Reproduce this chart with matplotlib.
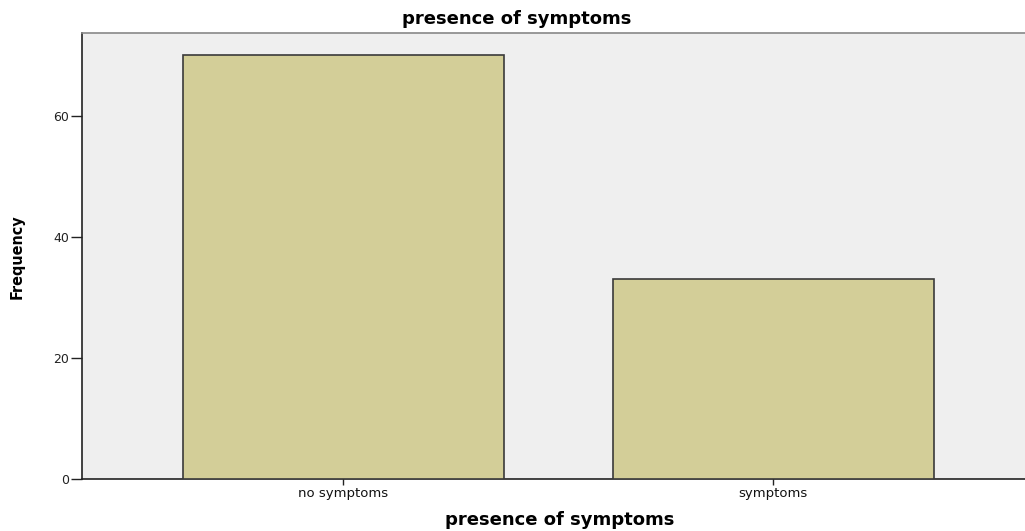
import matplotlib
matplotlib.use("Agg")
import matplotlib.pyplot as plt

categories = ["no symptoms", "symptoms"]
frequencies = [70, 33]
yticks = [0, 20, 40, 60]

plt.rcParams['font.family'] = ['DejaVu Sans']

fig = plt.figure(figsize=(10.25, 5.31), dpi=100)
ax = fig.add_axes([82/1025, 52/531, 1 - 82/1025 + 0.002, (479-33)/531])
ax.set_facecolor('#efefef')
x = list(range(len(categories)))
ax.bar(x, frequencies, width=0.746, color='#d3ce98', edgecolor='#3a3a3a', linewidth=1.2, zorder=3)
ax.set_xlim(-0.608, 1.59)
ax.set_ylim(0, 73.7)
ax.set_yticks(yticks)
ax.set_yticklabels([str(v) for v in yticks], fontsize=9, color='#222222')
ax.set_xticks(x)
ax.set_xticklabels(categories, fontsize=9.5, color='#111111')
ax.tick_params(axis='y', direction='out', length=8, width=1, color='#222222', pad=1)
ax.tick_params(axis='x', direction='out', length=4.5, width=1, color='#222222', pad=1)
for s in ['left', 'bottom']:
    ax.spines[s].set_color('#222222')
    ax.spines[s].set_linewidth(1.2)
ax.spines['top'].set_color('#888888')
ax.spines['top'].set_linewidth(1.2)
ax.spines['right'].set_visible(False)

fig.text(517/1025, 1 - 19/531, "presence of symptoms", ha='center', va='center',
         fontsize=13, fontweight='bold')
fig.text(560/1025, 1 - 520/531, "presence of symptoms", ha='center', va='center',
         fontsize=13, fontweight='bold')
fig.text(17.5/1025, 1 - 257/531, "Frequency", ha='center', va='center', rotation=90,
         fontsize=11.5, fontweight='bold', fontstretch='condensed',
         family=['DejaVu Sans Condensed', 'Liberation Sans Narrow', 'DejaVu Sans'])

fig.savefig("out.png", dpi=100)
